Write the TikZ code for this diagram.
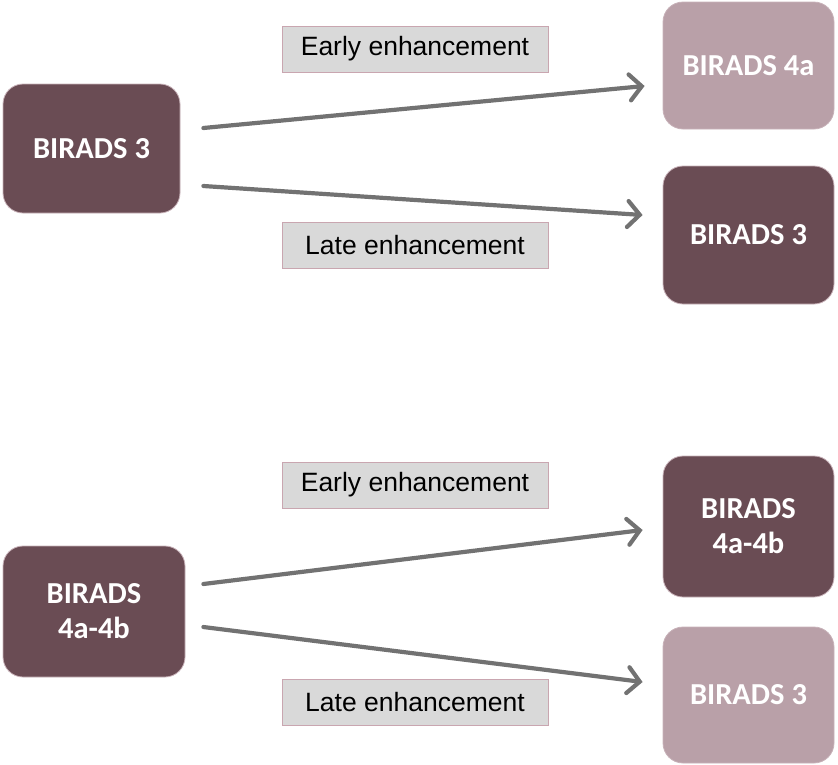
\documentclass[tikz,border=0pt]{standalone}
\usepackage{fontspec}
\setmainfont{Carlito}
\newfontfamily\labelfont{Liberation Sans}
\usetikzlibrary{arrows.meta}

\definecolor{plumdark}{HTML}{6A4C54}
\definecolor{plumlight}{HTML}{B9A0A8}
\definecolor{plumedge}{HTML}{C8B2B9}
\definecolor{labelgray}{HTML}{D9D9D9}
\definecolor{labeledge}{HTML}{C9A6B0}
\definecolor{arrowgray}{HTML}{727272}

\begin{document}
\begin{tikzpicture}[x=1pt,y=-1pt,
  birads/.style={draw=plumedge,line width=0.8pt,rounded corners=20pt,
    text=white,font=\bfseries\fontsize{30.5}{35}\selectfont,align=center,
    inner sep=0pt},
  darkbox/.style={birads,fill=plumdark},
  lightbox/.style={birads,fill=plumlight},
  enh/.style={draw=labeledge,line width=0.8pt,fill=labelgray,
    minimum width=266pt,minimum height=46pt,inner sep=0pt,
    font=\labelfont\fontsize{26.5}{30}\selectfont},
  flow/.style={draw=arrowgray,line width=4.2pt,line cap=round,
    -{Straight Barb[length=12pt,width=26pt,line cap=round]}}]
  \useasboundingbox (0,0) rectangle (838,764);

  % Upper part
  \node[darkbox,minimum width=177pt,minimum height=129pt] (b3) at (91.5,148.5) {BIRADS 3};
  \node[lightbox,minimum width=171pt,minimum height=127pt] (a4) at (748.5,65.5) {BIRADS 4a};
  \node[darkbox,minimum width=171pt,minimum height=138pt] (m3) at (748.5,235) {BIRADS 3};
  \node[enh] (early1) at (415,49) {Early enhancement};
  \node[enh] (late1) at (415,245) {Late enhancement};
  \draw[flow] ([shift={(23pt,20.5pt)}]b3.east) -- ([shift={(-18pt,-20.5pt)}]a4.west);
  \draw[flow] ([shift={(23pt,-37.5pt)}]b3.east) -- ([shift={(-20pt,20pt)}]m3.west);

  % Lower part
  \node[darkbox,minimum width=182pt,minimum height=131pt] (b4) at (94,611.5) {BIRADS\\4a-4b};
  \node[darkbox,minimum width=171pt,minimum height=141pt] (r4) at (748.5,526.5) {BIRADS\\4a-4b};
  \node[lightbox,minimum width=171pt,minimum height=136pt] (l3) at (748.5,695) {BIRADS 3};
  \node[enh] (early2) at (415,485) {Early enhancement};
  \node[enh] (late2) at (415,702) {Late enhancement};
  \draw[flow] ([shift={(18pt,27.5pt)}]b4.east) -- ([shift={(-20pt,-3.5pt)}]r4.west);
  \draw[flow] ([shift={(18pt,-15.5pt)}]b4.east) -- ([shift={(-20pt,13pt)}]l3.west);
\end{tikzpicture}
\end{document}
